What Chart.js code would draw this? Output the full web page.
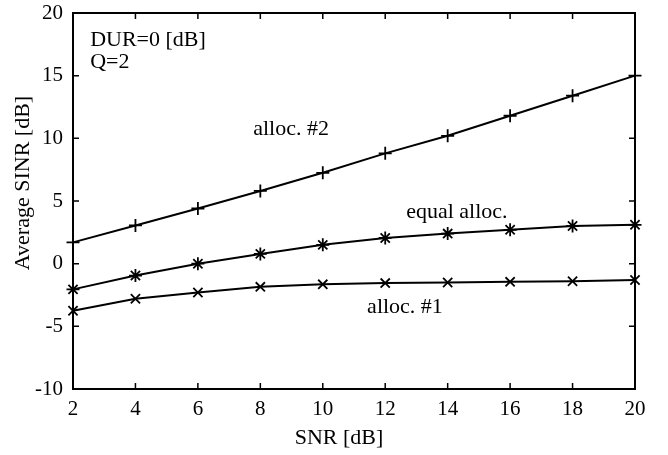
<!DOCTYPE html>
<html lang="en">
<head>
    <meta charset="UTF-8">
    <title>Average SINR vs SNR</title>
    <script src="https://cdn.jsdelivr.net/npm/chart.js"></script>
    <style>
        body { margin: 0; padding: 0; background: #fff; }
        #wrap { width: 668px; height: 455px; }
    </style>
</head>
<body>
    <div id="wrap"><canvas id="sinrChart" width="668" height="455"></canvas></div>

    <script>
        // SNR points [dB]
        const snr = [2, 4, 6, 8, 10, 12, 14, 16, 18, 20];
        // average SINR [dB] for each allocation
        const alloc2 = [1.7, 3.05, 4.4, 5.8, 7.25, 8.8, 10.2, 11.8, 13.4, 15.0];
        const equalAlloc = [-2.05, -0.95, 0, 0.78, 1.5, 2.05, 2.4, 2.7, 3.0, 3.1];
        const alloc1 = [-3.75, -2.8, -2.3, -1.85, -1.65, -1.55, -1.5, -1.45, -1.4, -1.3];

        const xTicks = [2, 4, 6, 8, 10, 12, 14, 16, 18, 20];
        const yTicks = [-10, -5, 0, 5, 10, 15, 20];
        const xTitle = 'SNR [dB]';
        const yTitle = 'Average SINR [dB]';

        // text labels placed in data coordinates
        const notes = [
            { text: 'DUR=0 [dB]', x: 2.55, y: 17.8 },
            { text: 'Q=2', x: 2.55, y: 16.1 },
            { text: 'alloc. #2', x: 7.77, y: 10.7 },
            { text: 'equal alloc.', x: 12.67, y: 4.1 },
            { text: 'alloc. #1', x: 11.42, y: -3.5 }
        ];

        const serif = '"Liberation Serif", "Times New Roman", serif';
        const toPts = arr => arr.map((v, i) => ({ x: snr[i], y: v }));

        // draws box, inward ticks, axis titles and text notes (matlab look)
        const frame = {
            id: 'frame',
            afterDatasetsDraw(chart) {
                const { ctx, chartArea: a, scales } = chart;
                ctx.save();
                ctx.strokeStyle = '#000';
                ctx.lineWidth = 2;
                ctx.strokeRect(a.left, a.top, a.right - a.left, a.bottom - a.top);
                ctx.lineWidth = 1.5;
                const t = 6;
                ctx.beginPath();
                xTicks.forEach(v => {
                    const px = scales.x.getPixelForValue(v);
                    ctx.moveTo(px, a.bottom); ctx.lineTo(px, a.bottom - t);
                    ctx.moveTo(px, a.top); ctx.lineTo(px, a.top + t);
                });
                yTicks.forEach(v => {
                    const py = scales.y.getPixelForValue(v);
                    ctx.moveTo(a.left, py); ctx.lineTo(a.left + t, py);
                    ctx.moveTo(a.right, py); ctx.lineTo(a.right - t, py);
                });
                ctx.stroke();

                ctx.fillStyle = '#000';
                ctx.font = '22px ' + serif;
                ctx.textAlign = 'left';
                ctx.textBaseline = 'middle';
                notes.forEach(n => {
                    ctx.fillText(n.text, scales.x.getPixelForValue(n.x), scales.y.getPixelForValue(n.y));
                });

                // axis titles, a bit off centre like the original
                ctx.textAlign = 'center';
                ctx.fillText(xTitle, (a.left + a.right) / 2 - 15, chart.height - 17);
                ctx.translate(23, (a.top + a.bottom) / 2 - 18);
                ctx.rotate(-Math.PI / 2);
                ctx.fillText(yTitle, 0, 0);
                ctx.restore();
            }
        };

        const lineSet = (label, data, style) => ({
            label: label,
            data: toPts(data),
            borderColor: '#000',
            backgroundColor: '#000',
            borderWidth: 2,
            pointStyle: style,
            pointRadius: 6.5,
            pointBorderWidth: 1.8,
            pointBorderColor: '#000',
            tension: 0,
            clip: false
        });

        const ctx = document.getElementById('sinrChart').getContext('2d');
        new Chart(ctx, {
            type: 'line',
            data: {
                datasets: [
                    lineSet('alloc. #2', alloc2, 'cross'),
                    lineSet('equal alloc.', equalAlloc, 'star'),
                    lineSet('alloc. #1', alloc1, 'crossRot')
                ]
            },
            options: {
                responsive: false,
                animation: false,
                layout: { padding: { top: 13, right: 33, left: 0, bottom: 0 } },
                plugins: {
                    legend: { display: false },
                    tooltip: { enabled: false }
                },
                scales: {
                    x: {
                        type: 'linear',
                        min: 2,
                        max: 20,
                        afterBuildTicks: s => { s.ticks = xTicks.map(v => ({ value: v })); },
                        afterFit: s => { s.height = 66; s.paddingLeft = 0; s.paddingRight = 0; },
                        grid: { display: false, drawTicks: false },
                        border: { display: false },
                        ticks: { color: '#000', font: { family: serif, size: 21 }, padding: 8, maxRotation: 0 }
                    },
                    y: {
                        min: -10,
                        max: 20,
                        afterBuildTicks: s => { s.ticks = yTicks.map(v => ({ value: v })); },
                        afterFit: s => { s.width = 73; s.paddingTop = 0; s.paddingBottom = 0; },
                        grid: { display: false, drawTicks: false },
                        border: { display: false },
                        ticks: { color: '#000', font: { family: serif, size: 21 }, padding: 10 }
                    }
                }
            },
            plugins: [frame]
        });
    </script>
</body>
</html>
